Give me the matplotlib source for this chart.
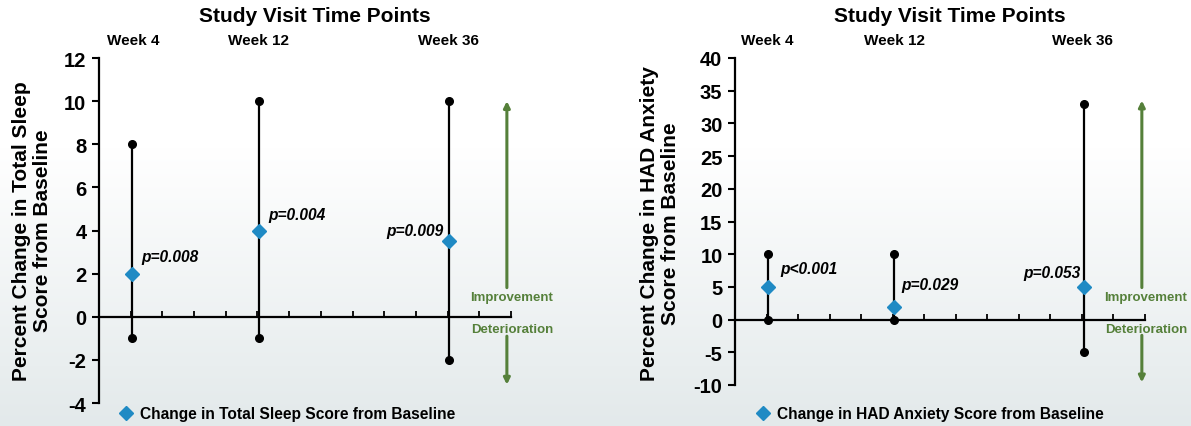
import numpy as np
import matplotlib.pyplot as plt

plt.rcParams['font.family'] = ['Liberation Sans', 'DejaVu Sans']
plt.rcParams['font.weight'] = 'bold'
plt.rcParams['axes.unicode_minus'] = False

# x positions of the visits on the 0..13 axis
weeks = ['Week 4', 'Week 12', 'Week 36']
xpos = [1.05, 5.05, 11.05]

# total sleep score
sleep_mean = [2, 4, 3.5]
sleep_lo = [-1, -1, -2]
sleep_hi = [8, 10, 10]
sleep_p = ['p=0.008', 'p=0.004', 'p=0.009']

# HAD anxiety score
anx_mean = [5, 2, 5]
anx_lo = [0, 0, -5]
anx_hi = [10, 10, 33]
anx_p = ['p<0.001', 'p=0.029', 'p=0.053']

blue = '#1f8ac4'
green = '#55803a'

fig = plt.figure(figsize=(11.91, 4.27), dpi=100)

# soft background gradient
bg = fig.add_axes([0, 0, 1, 1], zorder=-5)
grad = np.linspace(0, 1, 256)[:, None]
grad = np.clip((grad - 0.35) / 0.65, 0, 1)
top = np.array([1.0, 1.0, 1.0])
bot = np.array([0.89, 0.915, 0.92])
img = top + (bot - top) * grad[..., None]
bg.imshow(img, aspect='auto', extent=[0, 1, 0, 1], origin='upper')
bg.axis('off')

W, H = 1191, 427


def px(x0, x1, ytop, ybot):
    return [x0 / W, 1 - ybot / H, (x1 - x0) / W, (ybot - ytop) / H]


def panel(rect, ylim, yticks, mean, lo, hi, ptxt, poff, ylabel, ylab_x, ylab_y,
          legend_txt, leg_x, arrow_rng, title_x, week_x):
    ax = fig.add_axes(rect)
    ax.patch.set_alpha(0)
    ax.set_xlim(0, 13)
    ax.set_ylim(*ylim)
    ax.set_yticks(yticks)
    ax.tick_params(axis='y', direction='out', length=5, width=1.5, labelsize=14.5, pad=4)
    ax.set_xticks(range(1, 14))
    ax.set_xticklabels([])
    ax.tick_params(axis='x', direction='in', length=4, width=1.3)
    for s in ['top', 'right']:
        ax.spines[s].set_visible(False)
    ax.spines['bottom'].set_position(('data', 0))
    ax.spines['bottom'].set_linewidth(1.6)
    ax.spines['left'].set_linewidth(1.6)

    for i in range(3):
        ax.plot([xpos[i], xpos[i]], [lo[i], hi[i]], color='black', lw=1.6,
                marker='o', markersize=5.5, zorder=3, clip_on=False)
    ax.plot(xpos, mean, linestyle='none', marker='D', markersize=7.5, color=blue,
            zorder=4, clip_on=False, label=legend_txt)

    for i in range(3):
        dx, dy = poff[i]
        ax.annotate(ptxt[i], (xpos[i], mean[i]), xytext=(dx, dy),
                    textcoords='offset pixels', fontsize=11.2, style='italic',
                    ha='left' if dx > 0 else 'right', va='center')

    ax_x, a_top, a_mid_hi, a_mid_lo, a_bot = arrow_rng
    ap = dict(arrowstyle='-|>', color=green, lw=2.2, mutation_scale=9,
              shrinkA=0, shrinkB=0)
    ax.annotate('', xy=(ax_x, a_top), xytext=(ax_x, a_mid_hi), arrowprops=ap,
                annotation_clip=False)
    ax.annotate('', xy=(ax_x, a_bot), xytext=(ax_x, a_mid_lo), arrowprops=ap,
                annotation_clip=False)

    fig.text(ylab_x / W, 1 - ylab_y / H, ylabel, rotation=90, ha='center',
             va='center', fontsize=15, linespacing=1.1)
    fig.text(title_x / W, 1 - 17 / H, 'Study Visit Time Points', ha='center',
             va='center', fontsize=15)
    for i in range(3):
        fig.text(week_x[i] / W, 1 - 41 / H, weeks[i], ha='center', va='center',
                 fontsize=11)
    fig.legend(handles=ax.get_lines()[-1:], loc='center left',
               bbox_to_anchor=(leg_x / W, 1 - 415 / H), frameon=False,
               fontsize=11.2, handlelength=1.0, handletextpad=0.4,
               borderpad=0, borderaxespad=0)
    return ax


ax1 = panel(px(99, 511, 59, 404), (-4, 12), range(-4, 13, 2),
            sleep_mean, sleep_lo, sleep_hi, sleep_p,
            [(9, 17), (9, 16), (-6, 11)],
            'Percent Change in Total Sleep\nScore from Baseline', 32, 231,
            'Change in Total Sleep Score from Baseline', 118,
            (12.87, 10.0, 1.35, -0.9, -3.15), 315, [133, 259, 448])
fig.text(512 / W, 1 - 298 / H, 'Improvement', color=green, fontsize=9.5,
         ha='center', va='center')
fig.text(512 / W, 1 - 330 / H, 'Deterioration', color=green, fontsize=9.5,
         ha='center', va='center')

ax2 = panel(px(735, 1145, 59, 386), (-10, 40), range(-10, 41, 5),
            anx_mean, anx_lo, anx_hi, anx_p,
            [(12, 18), (7, 22), (-3, 14)],
            'Percent Change in HAD Anxiety\nScore from Baseline', 660, 224,
            'Change in HAD Anxiety Score from Baseline', 755,
            (12.9, 33.5, 4.9, -2.4, -9.6), 950, [767, 894, 1082])
fig.text(1146 / W, 1 - 298 / H, 'Improvement', color=green, fontsize=9.5,
         ha='center', va='center')
fig.text(1146 / W, 1 - 330 / H, 'Deterioration', color=green, fontsize=9.5,
         ha='center', va='center')

fig.savefig('out.png', dpi=100)
